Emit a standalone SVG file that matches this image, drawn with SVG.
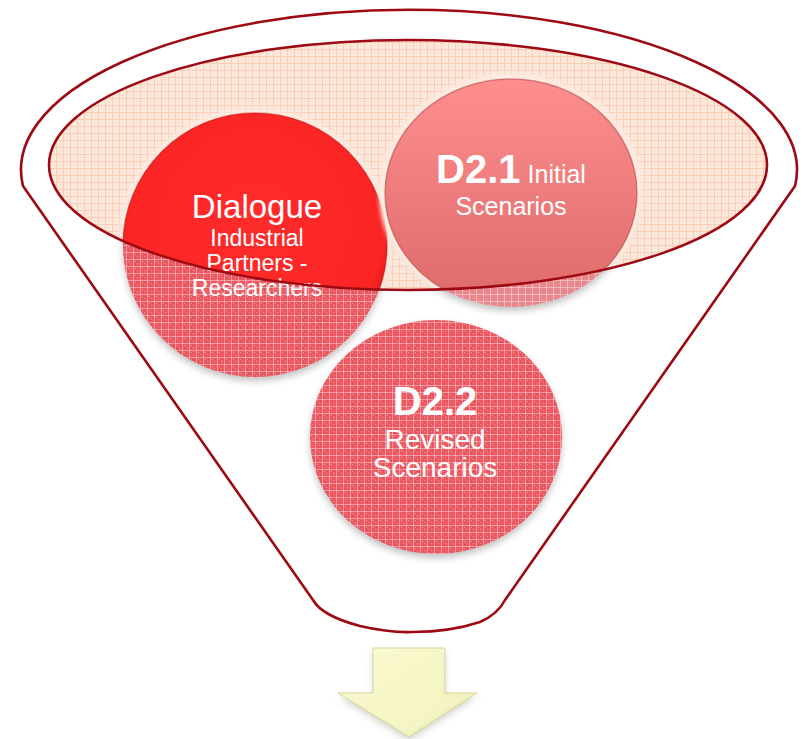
<svg xmlns="http://www.w3.org/2000/svg" width="804" height="739" viewBox="0 0 804 739">
<style>
.ln{fill:none;stroke:#9E0A14;stroke-width:2.6;stroke-linejoin:round}
.t{font-family:"Liberation Sans",Arial,sans-serif;fill:#FFFFFF;text-anchor:middle}
.b{font-weight:bold}
.sh{fill:#7A7A7A;opacity:0.45}
.halo{fill:#FDEBE1}
</style>
<defs>
<pattern id="patPeach" width="7" height="7" patternUnits="userSpaceOnUse">
<rect width="7" height="7" fill="#FDE8DC"/>
<path d="M0,0.5H7M0.5,0V7" stroke="#FACDB6" stroke-width="1"/>
<rect x="3" y="3" width="1" height="1" fill="#FBD6C4"/>
</pattern>
<pattern id="patRed" width="7" height="7" patternUnits="userSpaceOnUse">
<rect width="7" height="7" fill="#EC5862"/>
<path d="M0,0.5H7M0.5,0V7" stroke="#FFFFFF" stroke-opacity="0.38" stroke-width="1"/>
<rect x="2" y="2" width="1" height="1" fill="#FFFFFF" opacity="0.3"/>
<rect x="4" y="4" width="1" height="1" fill="#FFFFFF" opacity="0.3"/>
<rect x="2" y="5" width="1" height="1" fill="#D83A44" opacity="0.5"/>
<rect x="5" y="2" width="1" height="1" fill="#D83A44" opacity="0.5"/>
</pattern>
<pattern id="patPink" width="7" height="7" patternUnits="userSpaceOnUse">
<rect width="7" height="7" fill="#E8888C"/>
<path d="M0,0.5H7M0.5,0V7" stroke="#FFFFFF" stroke-opacity="0.38" stroke-width="1"/>
</pattern>
<radialGradient id="gDia" cx="0.5" cy="0.42" r="0.55">
<stop offset="0" stop-color="#FF2C2C"/>
<stop offset="0.9" stop-color="#FA2424"/>
<stop offset="1" stop-color="#DC1A1A"/>
</radialGradient>
<linearGradient id="gD21" x1="0" y1="0" x2="0" y2="1">
<stop offset="0" stop-color="#FE8E8E"/>
<stop offset="1" stop-color="#DE6A6A"/>
</linearGradient>
<linearGradient id="gArrow" x1="0" y1="0" x2="1" y2="1">
<stop offset="0" stop-color="#FCFCDA"/>
<stop offset="1" stop-color="#EDEDB2"/>
</linearGradient>
<clipPath id="inner"><ellipse cx="408" cy="165" rx="359" ry="125"/></clipPath>
<filter id="blur" x="-20%" y="-20%" width="140%" height="140%"><feGaussianBlur stdDeviation="3.5"/></filter>
<filter id="blur2" x="-20%" y="-20%" width="140%" height="140%"><feGaussianBlur stdDeviation="2"/></filter>
</defs>
<rect width="804" height="739" fill="#FFFFFF"/>
<g id="funnel">
<path class="ln" d="M23,186 A388 160 0 1 1 795,186 L505,600 Q498,614 480,622 Q450,632 413,632 Q390,633 360,626 Q322,616 313,600 Z"/>
<ellipse cx="408" cy="165" rx="359" ry="125" fill="url(#patPeach)"/>
</g>
<g id="dialogue">
<circle class="sh" cx="255" cy="249" r="132" filter="url(#blur)"/>
<circle class="halo" cx="255" cy="245" r="137" filter="url(#blur2)" clip-path="url(#inner)"/>
<circle cx="255" cy="245" r="132" fill="url(#patRed)"/>
<circle cx="255" cy="245" r="132" fill="url(#gDia)" stroke="#C81414" stroke-opacity="0.5" stroke-width="1.5" clip-path="url(#inner)"/>
<text class="t" x="257" y="218" font-size="33">Dialogue</text>
<text class="t" x="257" y="246" font-size="23">Industrial</text>
<text class="t" x="257" y="271" font-size="23">Partners -</text>
<text class="t" x="257" y="296" font-size="23">Researchers</text>
</g>
<g id="d21">
<ellipse class="sh" cx="511" cy="197" rx="126" ry="114" filter="url(#blur)"/>
<ellipse class="halo" cx="511" cy="193" rx="132" ry="120" filter="url(#blur2)" clip-path="url(#inner)"/>
<ellipse cx="511" cy="193" rx="126" ry="114" fill="url(#patPink)"/>
<ellipse cx="511" cy="193" rx="126" ry="114" fill="url(#gD21)" stroke="#B04848" stroke-opacity="0.5" stroke-width="1.5" clip-path="url(#inner)"/>
<text class="t" x="511" y="183"><tspan class="b" font-size="40">D2.1</tspan><tspan font-size="25"> Initial</tspan></text>
<text class="t" x="511" y="215" font-size="25">Scenarios</text>
</g>
<g id="d22">
<ellipse class="sh" cx="436" cy="441" rx="126" ry="117" filter="url(#blur)"/>
<ellipse cx="436" cy="437" rx="126" ry="117" fill="url(#patRed)"/>
<text class="t b" x="435" y="415" font-size="40">D2.2</text>
<text class="t" x="435" y="449" font-size="28">Revised</text>
<text class="t" x="435" y="477" font-size="28">Scenarios</text>
</g>
<g id="surface">
<ellipse class="ln" cx="408" cy="165" rx="359" ry="125"/>
</g>
<g id="arrow">
<polygon points="373,652 445,652 445,697 477,697 409,741 338,697 373,697" fill="#8A8A70" opacity="0.35" filter="url(#blur)"/>
<polygon points="373,648 445,648 445,693 477,693 409,737 338,693 373,693" fill="url(#gArrow)" stroke="#D6D69C" stroke-width="1"/>
<polygon points="377,652 441,652 441,697 466,697 409,733 349,697 377,697" fill="#F6F6C8" opacity="0.6"/>
</g>
<g id="connectors"/>
</svg>
